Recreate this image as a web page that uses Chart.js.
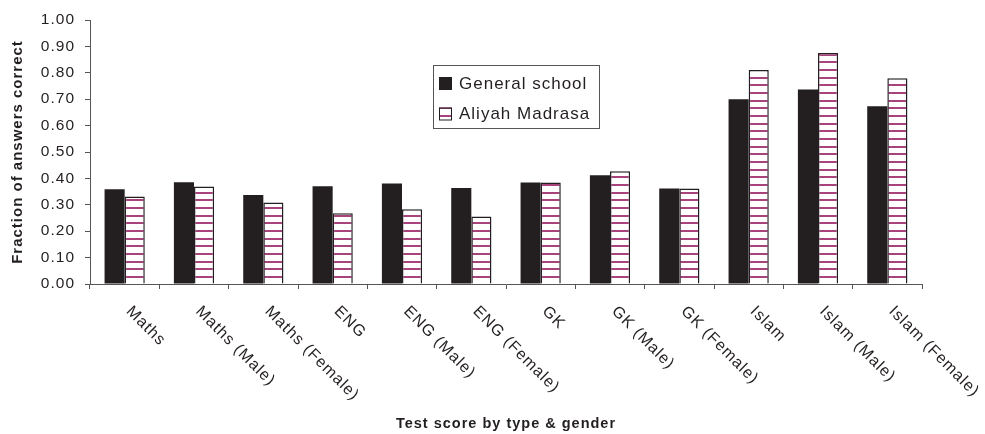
<!DOCTYPE html>
<html>
<head>
<meta charset="utf-8">
<script src="https://cdn.jsdelivr.net/npm/chart.js@4.4.1/dist/chart.umd.min.js"></script>
<style>
  html, body { margin: 0; padding: 0; background: #fff; }
  #wrap { width: 985px; height: 434px; }
</style>
</head>
<body>
<div id="wrap"><canvas id="chart" width="985" height="434"></canvas></div>
<script>
// data
const categories = ['Maths', 'Maths (Male)', 'Maths (Female)', 'ENG', 'ENG (Male)', 'ENG (Female)',
  'GK', 'GK (Male)', 'GK (Female)', 'Islam', 'Islam (Male)', 'Islam (Female)'];
const generalSchool = [0.359, 0.385, 0.337, 0.370, 0.381, 0.364, 0.384, 0.412, 0.362, 0.700, 0.737, 0.673];
const aliyahMadrasa = [0.331, 0.369, 0.309, 0.268, 0.283, 0.256, 0.384, 0.427, 0.362, 0.811, 0.875, 0.779];
const seriesNames = ['General school', 'Aliyah Madrasa'];

const FONT = "'Liberation Sans', Arial, sans-serif";
const INK = '#231f20';

// white tile with thin magenta horizontal lines
function makeStripes(ctx) {
  const tile = document.createElement('canvas');
  tile.width = 8;
  tile.height = 23;
  const t = tile.getContext('2d');
  t.fillStyle = '#ffffff';
  t.fillRect(0, 0, 8, 23);
  t.fillStyle = '#a8437b';
  [0, 8, 15].forEach(y => t.fillRect(0, y, 8, 2));
  return ctx.createPattern(tile, 'repeat');
}

const ctx = document.getElementById('chart').getContext('2d');
const stripes = makeStripes(ctx);

// x labels go down-right from each category, Chart.js can't rotate that way
const extraText = {
  id: 'extraText',
  beforeDraw(chart) {
    chart.ctx.letterSpacing = '1px';
  },
  afterDraw(chart) {
    const c = chart.ctx;
    const x = chart.scales.x;
    const area = chart.chartArea;
    c.save();
    c.letterSpacing = '1px';
    c.fillStyle = INK;
    c.font = '16px ' + FONT;
    c.textAlign = 'left';
    c.textBaseline = 'middle';
    categories.forEach((label, i) => {
      c.save();
      c.translate(x.getPixelForValue(i) + 4, area.bottom + 25);
      c.rotate(Math.PI / 4);
      c.fillText(label, 0, 0);
      c.restore();
    });

    // legend box in the middle of the plot
    const lx = area.left + 343, ly = area.top + 45;
    c.fillStyle = '#ffffff';
    c.fillRect(lx, ly, 166, 63);
    c.strokeStyle = '#555555';
    c.lineWidth = 1;
    c.strokeRect(lx + 0.5, ly + 0.5, 166, 63);
    const fills = [INK, stripes];
    seriesNames.forEach((name, i) => {
      const cy = ly + 18 + i * 30.5;
      c.fillStyle = fills[i];
      c.fillRect(lx + 6, cy - 6, 13, 13);
      if (i === 1) {
        c.strokeStyle = INK;
        c.strokeRect(lx + 6.5, cy - 5.5, 12, 12);
      }
      c.fillStyle = INK;
      c.font = '17px ' + FONT;
      c.fillText(name, lx + 26, cy + 1);
    });
    c.restore();
  }
};

new Chart(ctx, {
  type: 'bar',
  data: {
    labels: categories,
    datasets: [
      { label: seriesNames[0], data: generalSchool, backgroundColor: INK, borderWidth: 0,
        barPercentage: 1.0, categoryPercentage: 0.58 },
      { label: seriesNames[1], data: aliyahMadrasa, backgroundColor: stripes, borderColor: INK,
        borderWidth: 1.5, barPercentage: 1.0, categoryPercentage: 0.58 }
    ]
  },
  options: {
    responsive: false,
    animation: false,
    devicePixelRatio: 1,
    layout: { padding: { top: 20, right: 63, left: 0, bottom: 0 } },
    plugins: {
      legend: { display: false },
      tooltip: { enabled: false }
    },
    scales: {
      x: {
        ticks: { display: false },
        grid: { offset: true, drawOnChartArea: false, drawTicks: true, tickLength: 5, color: '#555555' },
        border: { color: '#555555', width: 1 },
        title: {
          display: true,
          text: 'Test score by type & gender',
          color: INK,
          font: { family: FONT, size: 14.5, weight: 'bold' },
          padding: { top: 0, bottom: 1 }
        },
        afterFit(scale) { scale.height = 150; }
      },
      y: {
        min: 0,
        max: 1,
        ticks: {
          stepSize: 0.1,
          color: INK,
          padding: 10,
          font: { family: FONT, size: 15.5 },
          callback: v => v.toFixed(2)
        },
        grid: { drawOnChartArea: false, drawTicks: true, tickLength: 5, color: '#555555' },
        border: { color: '#555555', width: 1 },
        title: {
          display: true,
          text: 'Fraction of answers correct',
          color: INK,
          font: { family: FONT, size: 15, weight: 'bold' },
          padding: { top: 9, bottom: 0 }
        },
        afterFit(scale) { scale.width = 90; }
      }
    }
  },
  plugins: [extraText]
});
</script>
</body>
</html>
